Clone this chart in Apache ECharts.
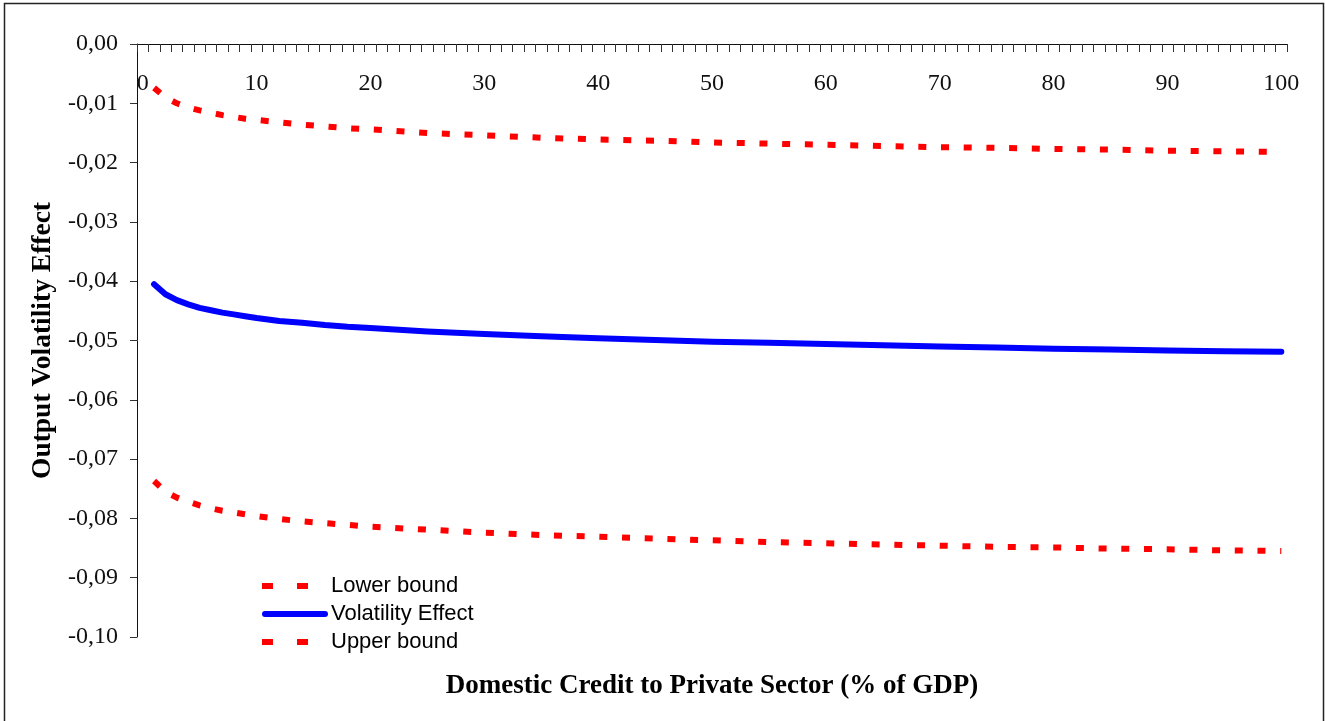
<!DOCTYPE html>
<html>
<head>
<meta charset="utf-8">
<title>Output Volatility Effect</title>
<script src="https://cdn.jsdelivr.net/npm/echarts@6/dist/echarts.min.js"></script>
<style>
  html, body { margin: 0; padding: 0; background: #fff; }
  #chart { width: 1325px; height: 721px; }
</style>
</head>
<body>
<div id="chart"></div>
<script>
// Domestic credit to private sector (% of GDP) at which the effect is evaluated
const creditLevels = [1, 2, 3, 4, 5, 6, 7, 8, 9, 10, 12, 14, 16, 18, 20, 25, 30, 35, 40, 45, 50,
  55, 60, 65, 70, 75, 80, 85, 90, 95, 100];

// Estimated marginal effect on output volatility
const volatilityEffect = [-0.0405, -0.0422, -0.0432, -0.0439, -0.0445, -0.0449, -0.0453, -0.0456,
  -0.0459, -0.0462, -0.0467, -0.0470, -0.0474, -0.0477, -0.0479, -0.0485, -0.0489, -0.0493,
  -0.0496, -0.0499, -0.0502, -0.0504, -0.0506, -0.0508, -0.0510, -0.0512, -0.0514, -0.0515,
  -0.0517, -0.0518, -0.0519];

// Confidence band
const lowerBound = [-0.0737, -0.0755, -0.0765, -0.0772, -0.0778, -0.0783, -0.0787, -0.0790,
  -0.0793, -0.0796, -0.0801, -0.0805, -0.0808, -0.0811, -0.0814, -0.0819, -0.0824, -0.0828,
  -0.0831, -0.0834, -0.0837, -0.0840, -0.0842, -0.0844, -0.0846, -0.0848, -0.0849, -0.0851,
  -0.0852, -0.0854, -0.0855];
const upperBound = [-0.0074, -0.0090, -0.0100, -0.0107, -0.0112, -0.0116, -0.0120, -0.0123,
  -0.0126, -0.0128, -0.0132, -0.0136, -0.0139, -0.0142, -0.0144, -0.0150, -0.0154, -0.0158,
  -0.0161, -0.0163, -0.0166, -0.0168, -0.0170, -0.0172, -0.0174, -0.0175, -0.0177, -0.0178,
  -0.0180, -0.0181, -0.0182];

// Axis labels
const xTickLabels = [0, 10, 20, 30, 40, 50, 60, 70, 80, 90, 100];
const yMin = -0.10, yMax = 0, yStep = 0.01;

// Category-style tick marks: one between each of the 101 credit levels 0..100
const xTickMarks = [];
for (let k = 0; k <= 101; k++) xTickMarks.push(k - 0.5);

const pairs = ys => creditLevels.map((x, i) => [x, ys[i]]);

const serif = '"Liberation Serif", "Times New Roman", serif';
const sans = '"Liberation Sans", Arial, sans-serif';

// Legend keys: two short dashes for the bounds, a rounded bar for the estimate
const dashIcon = 'path://M0,0H11V6H0Z M35,0H46V6H35Z M66,0L66,6Z';
const solidIcon = 'path://M3,0H63A3,3,0,0,1,63,6H3A3,3,0,0,1,3,0Z';

const chart = echarts.init(document.getElementById('chart'), null, { renderer: 'canvas' });

chart.setOption({
  backgroundColor: '#fff',
  animation: false,
  grid: { left: 137, top: 44, right: 38, bottom: 84, containLabel: false },
  xAxis: {
    type: 'value',
    position: 'top',
    min: -0.5,
    max: 100.5,
    axisLine: { onZero: false, lineStyle: { color: '#111', width: 1 } },
    axisTick: { inside: true, length: 8, customValues: xTickMarks, lineStyle: { color: '#333', width: 1 } },
    axisLabel: {
      inside: true, margin: 28, customValues: xTickLabels,
      fontFamily: serif, fontSize: 24, color: '#111'
    },
    splitLine: { show: false }
  },
  yAxis: {
    type: 'value',
    min: yMin,
    max: yMax,
    interval: yStep,
    name: 'Output Volatility Effect',
    nameLocation: 'middle',
    nameRotate: 90,
    nameGap: 78,
    nameTextStyle: { fontFamily: serif, fontSize: 27.5, fontWeight: 'bold', color: '#000' },
    axisLine: { show: true, onZero: false, lineStyle: { color: '#111', width: 1 } },
    axisTick: { show: true, length: 7, lineStyle: { color: '#333', width: 1 } },
    axisLabel: {
      margin: 19, fontFamily: serif, fontSize: 24, color: '#111',
      formatter: v => v.toFixed(2).replace('.', ',')
    },
    splitLine: { show: false }
  },
  legend: {
    orient: 'vertical',
    left: 262,
    top: 575,
    padding: 0,
    itemWidth: 66,
    itemHeight: 6,
    itemGap: 6,
    symbolKeepAspect: false,
    textStyle: { fontFamily: sans, fontSize: 22, color: '#000', lineHeight: 22, padding: [0, 0, 0, -2] },
    data: [
      { name: 'Lower bound', icon: dashIcon, itemStyle: { color: '#ff0000' } },
      { name: 'Volatility Effect', icon: solidIcon, itemStyle: { color: '#0000ff' } },
      { name: 'Upper bound', icon: dashIcon, itemStyle: { color: '#ff0000' } }
    ]
  },
  series: [
    {
      name: 'Lower bound', type: 'line', data: pairs(lowerBound),
      symbol: 'none', showSymbol: false, smooth: false,
      lineStyle: { color: '#ff0000', width: 6, type: [8, 14.7], cap: 'butt' },
      itemStyle: { color: '#ff0000' }
    },
    {
      name: 'Volatility Effect', type: 'line', data: pairs(volatilityEffect),
      symbol: 'none', showSymbol: false, smooth: false,
      lineStyle: { color: '#0000ff', width: 6, cap: 'round', join: 'round' },
      itemStyle: { color: '#0000ff' }
    },
    {
      name: 'Upper bound', type: 'line', data: pairs(upperBound),
      symbol: 'none', showSymbol: false, smooth: false,
      lineStyle: { color: '#ff0000', width: 6, type: [8, 14.7], cap: 'butt' },
      itemStyle: { color: '#ff0000' }
    }
  ],
  graphic: [
    {
      type: 'rect', silent: true, z: -1,
      shape: { x: 4.5, y: 3.5, width: 1319, height: 760 },
      style: { fill: null, stroke: '#222', lineWidth: 1.5 }
    },
    {
      type: 'text', silent: true,
      x: 712, y: 686,
      style: {
        text: 'Domestic Credit to Private Sector (% of GDP)',
        fontFamily: serif, fontSize: 27, fontWeight: 'bold', fill: '#000',
        textAlign: 'center', textVerticalAlign: 'middle'
      }
    }
  ]
});
</script>
</body>
</html>
